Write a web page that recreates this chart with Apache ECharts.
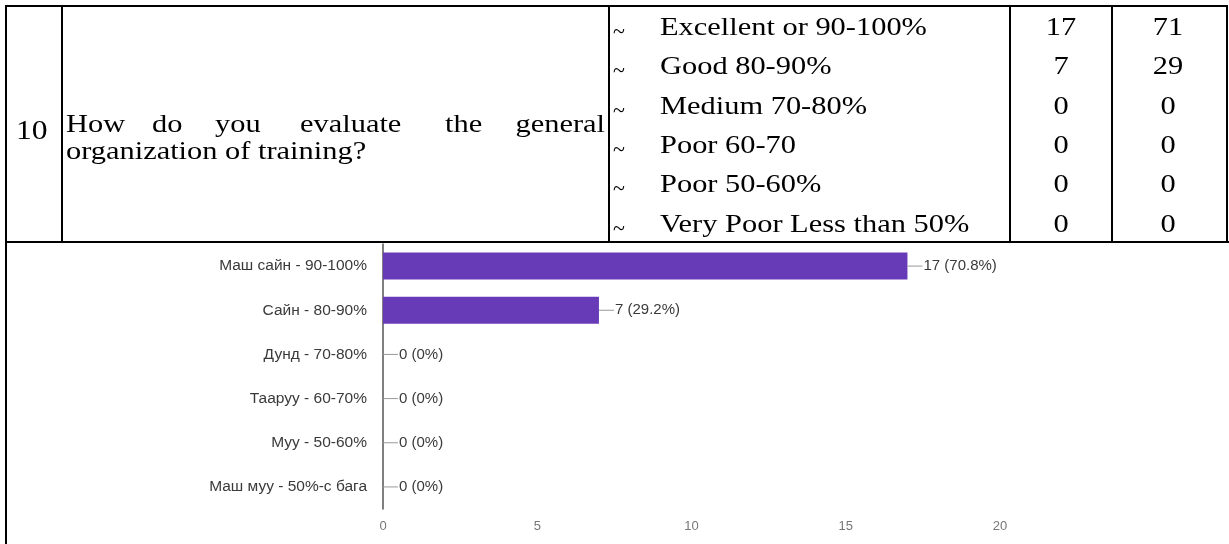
<!DOCTYPE html>
<html><head><meta charset="utf-8">
<script src="https://cdn.jsdelivr.net/npm/echarts@6/dist/echarts.min.js"></script>
<style>html,body{margin:0;padding:0;background:#fff}#c{width:1229px;height:544px}</style>
</head><body><div id="c"></div>
<script>
// ---- data ----
const categories = ['Маш сайн - 90-100%','Сайн - 80-90%','Дунд - 70-80%','Тааруу - 60-70%','Муу - 50-60%','Маш муу - 50%-с бага'];
const counts = [17, 7, 0, 0, 0, 0];
const percents = ['70.8%','29.2%','0%','0%','0%','0%'];
const xMin = 0, xMax = 20, xStep = 5;
const tableNo = '10';
const questionLine1 = ['How','do','you','evaluate','the','general'];
const questionLine2 = 'organization of training?';
const tableOptions = ['Excellent or 90-100%','Good 80-90%','Medium 70-80%','Poor 60-70','Poor 50-60%','Very Poor Less than 50%'];
const tableCounts = ['17','7','0','0','0','0'];
const tablePercents = ['71','29','0','0','0','0'];

// ---- layout ----
const serif = '"Liberation Serif", "Times New Roman", serif';
const sans = '"Liberation Sans", Arial, sans-serif';
const FS = 26, SX = 1.17;
const rowY0 = 28, rowStep = 39.4;
const lineStyle = {stroke: '#000', lineWidth: 2};
const g = [];
function L(x1,y1,x2,y2){ g.push({type:'line', silent:true, shape:{x1,y1,x2,y2}, style:lineStyle}); }
function T(text,x,y,align,size,sx){
  g.push({type:'text', silent:true, x:x, y:y, scaleX: sx||SX,
    style:{text:text, x:0, y:0, fill:'#000', font: (size||FS)+'px '+serif, textAlign: align||'left', textVerticalAlign:'middle'}});
}
// table frame
L(5,6,1228,6); L(5,242,1229,242); L(6,5,6,544);
[62,609,1010,1112,1227].forEach(x => L(x,5,x,242));
// question number & text
T(tableNo, 16, 132, 'left', 27);
const wordX = [66,152,215,300,445,605];
questionLine1.forEach((w,i) => T(w, wordX[i], 125, i === questionLine1.length-1 ? 'right' : 'left'));
T(questionLine2, 66, 152, 'left');
// options & numbers
tableOptions.forEach((t,i) => {
  const y = rowY0 + i*rowStep;
  T('~', 613, y+4, 'left', 22, 1);
  T(t, 660, y, 'left');
  T(tableCounts[i], 1061, y, 'center');
  T(tablePercents[i], 1168, y, 'center');
});

const chart = echarts.init(document.getElementById('c'), null, {renderer:'canvas'});
chart.setOption({
  backgroundColor: '#fff',
  animation: false,
  grid: {left: 383, top: 244, width: 617, height: 265, containLabel: false},
  xAxis: {
    type: 'value', min: xMin, max: xMax, interval: xStep,
    axisLine: {show: false}, axisTick: {show: false}, splitLine: {show: false},
    axisLabel: {color: '#777', fontFamily: sans, fontSize: 13, margin: 11}
  },
  yAxis: {
    type: 'category', inverse: true, data: categories,
    axisLine: {show: true, lineStyle: {color: '#555', width: 1.5}},
    axisTick: {show: false},
    axisLabel: {color: '#3a3a3a', fontFamily: sans, fontSize: 15.5, margin: 16}
  },
  series: [{
    type: 'bar', data: counts, barWidth: 27,
    itemStyle: {color: '#673ab7'},
    label: {
      show: true, position: 'right', distance: 0,
      formatter: p => '{l|}{t|' + p.value + ' (' + percents[p.dataIndex] + ')}',
      rich: {
        l: {width: 15, height: 1, backgroundColor: '#999', verticalAlign: 'middle'},
        t: {color: '#3a3a3a', fontFamily: sans, fontSize: 15, padding: [0,0,0,1], verticalAlign: 'middle'}
      }
    }
  }],
  graphic: g
});
</script></body></html>
